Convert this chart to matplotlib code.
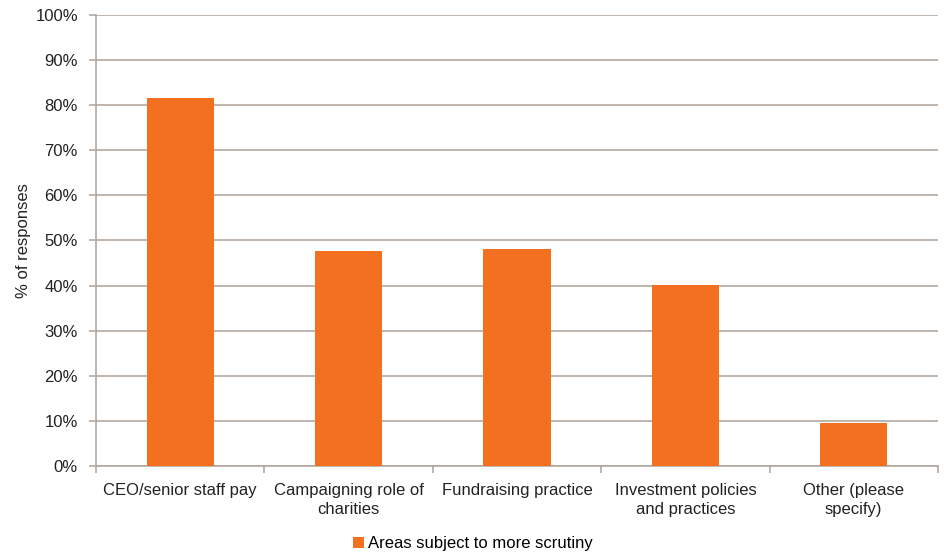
import matplotlib.pyplot as plt
import numpy as np
from matplotlib.ticker import FuncFormatter, MultipleLocator

plt.rcParams["font.family"] = ["Liberation Sans", "DejaVu Sans"]

categories = ["CEO/senior staff pay", "Campaigning role of\ncharities", "Fundraising practice",
              "Investment policies\nand practices", "Other (please\nspecify)"]
values = [81.6, 47.6, 48.1, 40.1, 9.6]
series_name = "Areas subject to more scrutiny"

orange = "#f37021"
gridc = "#b1a89f"
textc = "#222222"

fig = plt.figure(figsize=(9.45, 5.55), dpi=100)
ax = fig.add_axes([0.1016, 0.1604, 0.891, 0.8126])

x = np.arange(len(categories))
ax.bar(x, values, width=0.4, color=orange, label=series_name, zorder=3)

ax.set_xlim(-0.5, len(categories) - 0.5)
ax.set_ylim(0, 100)
ax.yaxis.set_major_locator(MultipleLocator(10))
ax.yaxis.set_major_formatter(FuncFormatter(lambda v, p: f"{v:.0f}%"))
ax.grid(axis="y", color=gridc, linewidth=1.2, zorder=0)

# category labels centred, ticks between categories
ax.set_xticks(x)
ax.set_xticklabels(categories, fontsize=12, color=textc, linespacing=1.35, va="top")
ax.set_xticks(np.arange(-0.5, len(categories)), minor=True)
ax.tick_params(axis="x", which="major", length=0, pad=12)
ax.tick_params(axis="x", which="minor", length=5, width=1.2, color=gridc)
ax.tick_params(axis="y", length=5, width=1.2, color=gridc, labelsize=12, labelcolor=textc, pad=8)

for s in ["top", "right"]:
    ax.spines[s].set_visible(False)
for s in ["left", "bottom"]:
    ax.spines[s].set_color(gridc)
    ax.spines[s].set_linewidth(1.2)

ax.set_ylabel("% of responses", fontsize=12, color=textc, labelpad=3)

fig.legend(loc="center", bbox_to_anchor=(0.5, 0.02), frameon=False, fontsize=12,
           handlelength=0.7, handleheight=0.7, handletextpad=0.2, borderpad=0)

fig.savefig("out.png", dpi=100)
